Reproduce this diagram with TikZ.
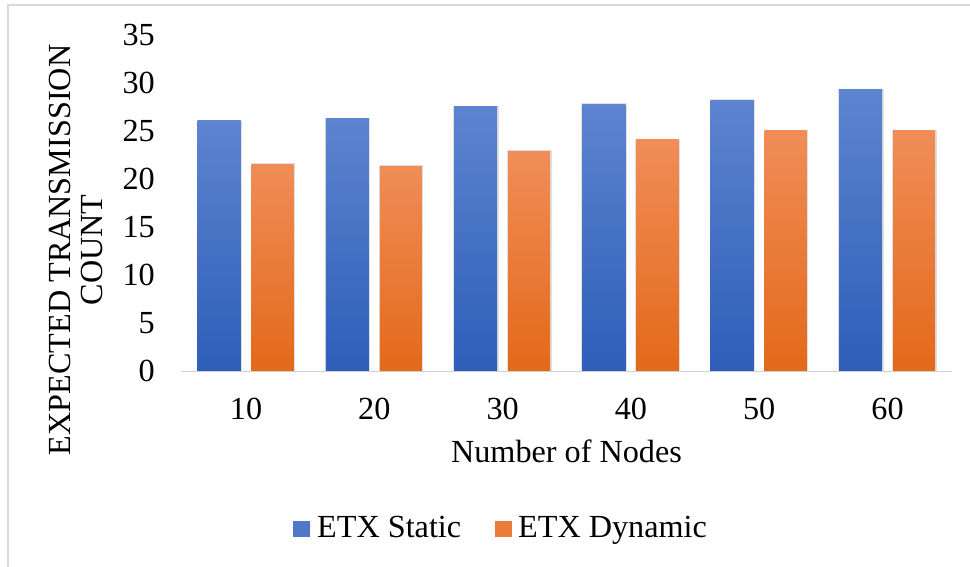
\documentclass[tikz,border=0pt]{standalone}
\usepackage{fontspec}
\setmainfont{Liberation Serif}
\definecolor{frameGray}{HTML}{D9D9D9}
\definecolor{axisGray}{HTML}{D0D0D0}
\definecolor{staticTop}{HTML}{5D84CF}
\definecolor{staticBot}{HTML}{2D5EB9}
\definecolor{dynTop}{HTML}{F08D57}
\definecolor{dynBot}{HTML}{E3691A}
\tikzset{
  frameline/.style={draw=frameGray, line width=2pt},
  axisline/.style={draw=axisGray, line width=1.5pt},
  staticbar/.style={top color=staticTop, bottom color=staticBot, draw=none},
  dynbar/.style={top color=dynTop, bottom color=dynBot, draw=none},
  barshadow/.style={fill=black, opacity=0.12, draw=none},
  ticklabel/.style={anchor=base east, inner sep=0pt},
  catlabel/.style={anchor=base, inner sep=0pt},
  vtitle/.style={rotate=90, anchor=base, inner sep=0pt},
  legendtext/.style={anchor=base west, inner sep=0pt}
}
\begin{document}
\begin{tikzpicture}[x=1pt, y=-1pt, font=\fontsize{32.2}{32}\selectfont]
\useasboundingbox (0,0) rectangle (970,567);
% chart frame
\draw[frameline] (8,567) -- (8,5) -- (970,5);

% y ticks: value v sits at 371 - 9.6 v
\foreach \v in {0,5,...,35} {
  \pgfmathsetmacro{\yy}{371-9.6*\v+10.5}
  \node[ticklabel] (ytick\v) at (155,\yy) {\v};
}

% bars
\foreach \i/\s/\d/\lab in {0/26.05/21.55/10, 1/26.3/21.35/20, 2/27.5/22.9/30,
                           3/27.8/24.1/40, 4/28.2/25.0/50, 5/29.3/25.0/60} {
  \pgfmathsetmacro{\bx}{197.5+128.3*\i}
  \pgfmathsetmacro{\ox}{251.5+128.3*\i}
  \pgfmathsetmacro{\sy}{371-9.6*\s}
  \pgfmathsetmacro{\dy}{371-9.6*\d}
  \pgfmathsetmacro{\cx}{\bx+48.5}
  \fill[barshadow] (\bx-1,\sy-1) rectangle (\bx+44.5,371);
  \fill[barshadow] (\ox-1,\dy-1) rectangle (\ox+43.5,371);
  \shade[staticbar] (\bx,\sy) rectangle (\bx+43,371);
  \shade[dynbar] (\ox,\dy) rectangle (\ox+42,371);
  \node[catlabel] (xcat\lab) at (\cx,419) {\lab};
}

% x axis
\coordinate (axisL) at (181,371.5);
\coordinate (axisR) at (952,371.5);
\draw[axisline] (axisL) -- (axisR);

% axis titles
\node[catlabel] (xtitle) at (566.5,462) {Number of Nodes};
\node[vtitle] (ytitleA) at (70,250) {EXPECTED TRANSMISSION};
\node[vtitle] (ytitleB) at (102,250) {COUNT};

% legend
\fill[staticTop!70!staticBot] (293,521) rectangle (310,537);
\node[legendtext] (legStatic) at (317,537) {ETX Static};
\fill[dynTop!50!dynBot] (495,521) rectangle (512,537);
\node[legendtext] (legDynamic) at (518,537) {ETX Dynamic};
\end{tikzpicture}
\end{document}
